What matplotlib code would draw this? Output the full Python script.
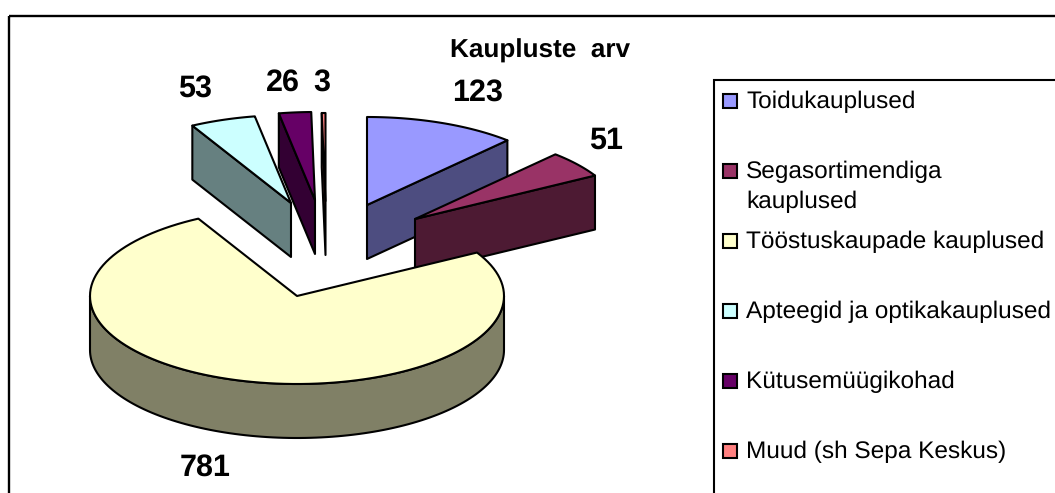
import numpy as np
import matplotlib
matplotlib.use("Agg")
import matplotlib.pyplot as plt
from matplotlib.patches import Polygon, Rectangle

plt.rcParams['font.family'] = ['Liberation Sans', 'DejaVu Sans']
plt.rcParams['text.hinting'] = 'no_hinting'

categories = ["Toidukauplused", "Segasortimendiga\nkauplused", "Tööstuskaupade kauplused",
              "Apteegid ja optikakauplused", "Kütusemüügikohad", "Muud (sh Sepa Keskus)"]
values = [123, 51, 781, 53, 26, 3]
top_colors = ["#9999FF", "#993366", "#FFFFCC", "#CCFFFF", "#660066", "#FF8080"]
side_colors = ["#4D4D80", "#4D1A33", "#808066", "#668080", "#330033", "#804040"]

# slice apex in pixels (exploded pie), and where the value labels sit
apex_x = [367, 415, 297, 291, 315, 325.5]
apex_y = [205, 219, 296, 203, 200, 201]
label_x = [478, 606, 205, 195, 283, 322]
label_y = [93, 141, 468, 89, 83, 83]

RX, RY, DEPTH = 207, 88, 54
LW = 1.5


def arc(cx, cy, a0, a1):
    # angles clockwise from the top, degrees
    t = np.radians(np.linspace(a0, a1, 120))
    return np.column_stack([cx + RX * np.sin(t), cy - RY * np.cos(t)])


def poly(ax, pts, color):
    ax.add_patch(Polygon(pts, closed=True, facecolor=color, edgecolor="black",
                         linewidth=LW, joinstyle="round"))


fig = plt.figure(figsize=(10.55, 4.93), dpi=100)
ax = fig.add_axes([0, 0, 1, 1])
ax.set_xlim(0, 1055)
ax.set_ylim(493, 0)
ax.axis("off")

# chart frame runs off the right and bottom of the picture
ax.add_patch(Rectangle((9, 15.5), 1100, 520, fill=False, edgecolor="black", linewidth=1.7))

edges = np.concatenate([[0], np.cumsum(values)]) * 360.0 / sum(values)

# back slices first, the big one goes over them
for i in [0, 1, 3, 4, 5, 2]:
    a0, a1 = edges[i], edges[i + 1]
    cx, cy = apex_x[i], apex_y[i]
    drop = np.array([0, DEPTH])
    c = np.array([cx, cy])
    if a1 <= 90:
        # right hand slices show the wall at their far edge
        p = arc(cx, cy, a1, a1)[0]
        poly(ax, [c, p, p + drop, c + drop], side_colors[i])
    elif a0 >= 270:
        p = arc(cx, cy, a0, a0)[0]
        poly(ax, [c, p, p + drop, c + drop], side_colors[i])
    else:
        # outer rim, only the part turned to the viewer
        rim = arc(cx, cy, max(a0, 90), min(a1, 270))
        poly(ax, np.vstack([rim, (rim + drop)[::-1]]), side_colors[i])
    poly(ax, np.vstack([c, arc(cx, cy, a0, a1)]), top_colors[i])

for v, x, y in zip(values, label_x, label_y):
    ax.text(x, y, str(v), fontsize=22, fontweight="bold", ha="center", va="center", color="black")

ax.text(450, 51, "Kaupluste  arv", fontsize=18.8, fontweight="bold", ha="left", va="center")

# legend box, also cut by the picture edge
ax.add_patch(Rectangle((713.5, 79.5), 400, 460, facecolor="white", edgecolor="black", linewidth=1.5))
for i, name in enumerate(categories):
    yc = 101 + 70 * i
    ax.add_patch(Rectangle((723, yc - 7), 14, 14, facecolor=top_colors[i], edgecolor="black", linewidth=1.5))
    ax.text(746, yc - 10, name, fontsize=17.6, ha="left", va="top", linespacing=1.4)

fig.savefig("out.png", dpi=100)
